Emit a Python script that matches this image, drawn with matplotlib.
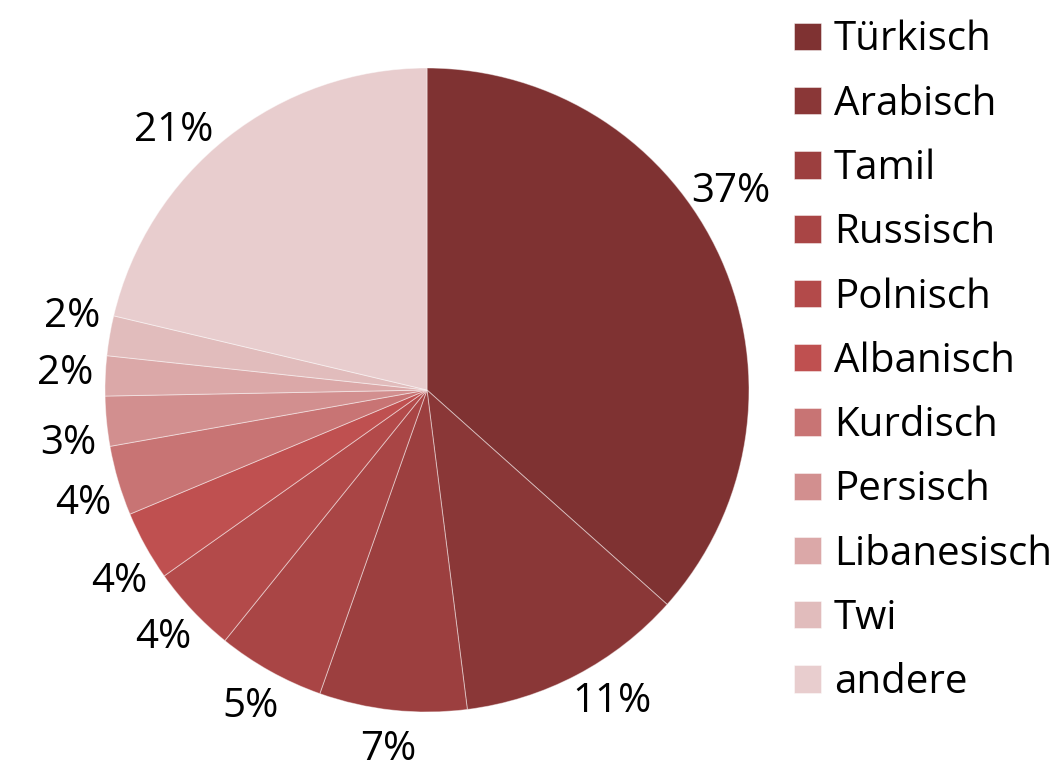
import numpy as np
import matplotlib.pyplot as plt

languages = ["Türkisch", "Arabisch", "Tamil", "Russisch", "Polnisch", "Albanisch",
             "Kurdisch", "Persisch", "Libanesisch", "Twi", "andere"]
shares = [36.6, 11.4, 7.4, 5.4, 4.4, 3.5, 3.5, 2.5, 2.0, 2.0, 21.3]
share_labels = ["37%", "11%", "7%", "5%", "4%", "4%", "4%", "3%", "2%", "2%", "21%"]
colors = ["#7f3232", "#8a3737", "#9c3f3f", "#a94545", "#b34a4a", "#bf5050",
          "#c87474", "#d28f8f", "#dba8a8", "#e1bcbc", "#e8cdce"]

plt.rcParams['font.family'] = ['Open Sans', 'DejaVu Sans']

W, H = 1055, 773
fig = plt.figure(figsize=(W / 100, H / 100), dpi=100)

# pie centre and radius in pixels
cx, cy, r = 427, 390, 322
lim = 1.02
half = r * lim
ax = fig.add_axes([(cx - half) / W, (H - cy - half) / H, 2 * half / W, 2 * half / H])

wedges, _ = ax.pie(shares, colors=colors, startangle=90, counterclock=False,
                   wedgeprops=dict(edgecolor=(1, 1, 1, 0.45), linewidth=0.7))
ax.set_xlim(-lim, lim)
ax.set_ylim(-lim, lim)
ax.set_aspect('equal')
ax.axis('off')

# small angular nudges (deg) like the "best fit" label placement
nudge = {0: 9, 1: 3, 5: 3, 6: 2, 7: 3, 9: -2, 10: 6}
for i, (w, lab) in enumerate(zip(wedges, share_labels)):
    ang = np.deg2rad((w.theta1 + w.theta2) / 2 + nudge.get(i, 0))
    ax.text(1.125 * np.cos(ang), 1.125 * np.sin(ang), lab, fontsize=29,
            ha='center', va='center', color='black')

fig.legend(wedges, languages, loc='upper left', bbox_to_anchor=(794 / W, 1 - 20 / H),
           frameon=False, fontsize=29, handlelength=0.67, handleheight=0.67,
           handletextpad=0.32, labelspacing=0.59, borderaxespad=0, borderpad=0)

fig.savefig("out.png", dpi=100)
